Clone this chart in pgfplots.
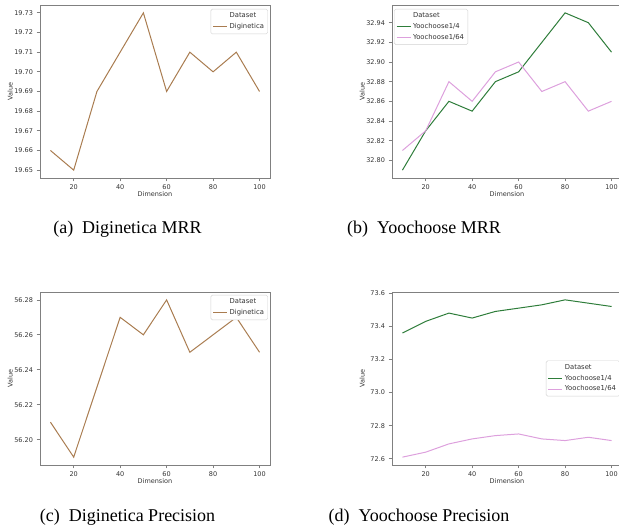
\documentclass[border=0pt]{standalone}
\usepackage{pgfplots}
\pgfplotsset{compat=1.18}
\usepackage{fontspec}
\setmainfont{Liberation Serif}
\newfontfamily\dejavu{DejaVu Sans}
\definecolor{brownc}{HTML}{A97C50}
\definecolor{greenc}{HTML}{2E7D3A}
\definecolor{pinkc}{HTML}{DDA0DD}
\definecolor{framec}{HTML}{808080}
\definecolor{textc}{HTML}{333333}
\pgfplotsset{
  panel/.style={
    scale only axis, width=230pt, height=173pt,
    xmin=5.5, xmax=104.5,
    xtick={20,40,60,80,100},
    axis line style={framec, line width=0.9pt},
    tick style={framec, line width=0.7pt},
    tick align=outside, major tick length=3.5pt,
    xtick pos=bottom, ytick pos=left,
    /pgf/number format/assume math mode=true,
    ticklabel style={font=\dejavu\fontsize{6.5}{7}\selectfont, text=textc},
    label style={font=\dejavu\fontsize{6.5}{7}\selectfont, text=textc},
    xlabel={Dimension}, ylabel={Value},
    xlabel style={at={(axis description cs:0.5,-0.095)}, anchor=center},
    ylabel style={at={(axis description cs:-0.13,0.5)}, anchor=center},
    every axis plot/.append style={line width=1pt},
    legend cell align=left,
    legend image code/.code={\draw[##1] (0pt,0pt) -- (14pt,0pt);},
    legend style={draw=gray!35, rounded corners=1.5pt, fill=white,
      font=\dejavu\fontsize{6.8}{8}\selectfont, text=textc,
      inner sep=1.8pt, row sep=0pt},
  }
}
\begin{document}
\begin{tikzpicture}[x=1pt,y=1pt]
\useasboundingbox (0,0) rectangle (619,529);
% (a)
\begin{axis}[panel, at={(40pt,351pt)}, anchor=south west,
  ymin=19.646, ymax=19.734,
  ytick={19.65,19.66,19.67,19.68,19.69,19.70,19.71,19.72,19.73},
  yticklabel style={/pgf/number format/.cd, fixed, fixed zerofill, precision=2},
  legend style={at={(0.991,0.977)}, anchor=north east}]
\addlegendimage{white, line width=0pt}\addlegendentry{Dataset}
\addplot[brownc] coordinates {(10,19.66)(20,19.65)(30,19.69)(40,19.71)(50,19.73)(60,19.69)(70,19.71)(80,19.70)(90,19.71)(100,19.69)};
\addlegendentry{Diginetica}
\end{axis}
% (b)
\begin{axis}[panel, at={(392pt,351pt)}, anchor=south west,
  ymin=32.782, ymax=32.958,
  ytick={32.80,32.82,32.84,32.86,32.88,32.90,32.92,32.94},
  yticklabel style={/pgf/number format/.cd, fixed, fixed zerofill, precision=2},
  legend style={at={(0.009,0.977)}, anchor=north west}]
\addlegendimage{white, line width=0pt}\addlegendentry{Dataset}
\addplot[greenc] coordinates {(10,32.79)(20,32.83)(30,32.86)(40,32.85)(50,32.88)(60,32.89)(70,32.92)(80,32.95)(90,32.94)(100,32.91)};
\addlegendentry{Yoochoose1/4}
\addplot[pinkc] coordinates {(10,32.81)(20,32.83)(30,32.88)(40,32.86)(50,32.89)(60,32.90)(70,32.87)(80,32.88)(90,32.85)(100,32.86)};
\addlegendentry{Yoochoose1/64}
\end{axis}
% (c)
\begin{axis}[panel, at={(40pt,64pt)}, anchor=south west,
  ymin=56.1855, ymax=56.2845,
  ytick={56.20,56.22,56.24,56.26,56.28},
  yticklabel style={/pgf/number format/.cd, fixed, fixed zerofill, precision=2},
  legend style={at={(0.991,0.983)}, anchor=north east}]
\addlegendimage{white, line width=0pt}\addlegendentry{Dataset}
\addplot[brownc] coordinates {(10,56.21)(20,56.19)(30,56.23)(40,56.27)(50,56.26)(60,56.28)(70,56.25)(80,56.26)(90,56.27)(100,56.25)};
\addlegendentry{Diginetica}
\end{axis}
% (d)
\begin{axis}[panel, at={(392pt,64pt)}, anchor=south west,
  ymin=72.5625, ymax=73.6075,
  ytick={72.6,72.8,73.0,73.2,73.4,73.6},
  yticklabel style={/pgf/number format/.cd, fixed, fixed zerofill, precision=1},
  legend style={at={(0.991,0.5)}, anchor=east}]
\addlegendimage{white, line width=0pt}\addlegendentry{Dataset}
\addplot[greenc] coordinates {(10,73.36)(20,73.43)(30,73.48)(40,73.45)(50,73.49)(60,73.51)(70,73.53)(80,73.56)(90,73.54)(100,73.52)};
\addlegendentry{Yoochoose1/4}
\addplot[pinkc] coordinates {(10,72.61)(20,72.64)(30,72.69)(40,72.72)(50,72.74)(60,72.75)(70,72.72)(80,72.71)(90,72.73)(100,72.71)};
\addlegendentry{Yoochoose1/64}
\end{axis}
% captions
\node[font=\fontsize{18}{21}\selectfont, anchor=center] at (127.5,300) {(a)\enspace Diginetica MRR};
\node[font=\fontsize{18}{21}\selectfont, anchor=center] at (424,300) {(b)\enspace Yoochoose MRR};
\node[font=\fontsize{18}{21}\selectfont, anchor=center] at (127.5,12) {(c)\enspace Diginetica Precision};
\node[font=\fontsize{18}{21}\selectfont, anchor=center] at (419,12) {(d)\enspace Yoochoose Precision};
\end{tikzpicture}
\end{document}
